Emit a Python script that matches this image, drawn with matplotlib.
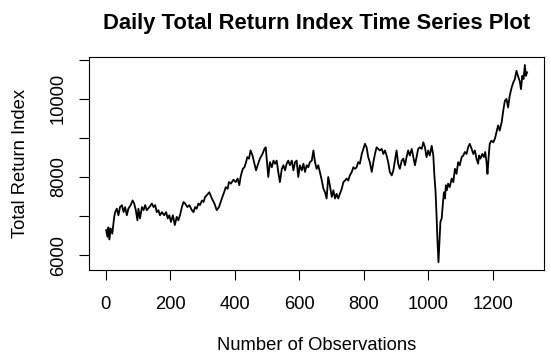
import matplotlib
matplotlib.use("Agg")
import matplotlib.pyplot as plt

obs = [1, 5, 8, 11, 15, 20, 26, 29, 34, 39, 44, 50, 55, 60, 65, 70, 77, 83, 88, 93,
       98, 101, 106, 112, 117, 122, 127, 135, 143, 148, 153, 158, 163, 168, 174, 181, 187, 192, 197, 202,
       208, 214, 220, 225, 230, 236, 241, 246, 253, 259, 267, 272, 277, 282, 287, 292, 298, 303, 308, 313,
       321, 329, 337, 344, 351, 360, 367, 372, 378, 382, 388, 396, 403, 409, 414, 419, 425, 430, 435, 439,
       444, 449, 455, 460, 466, 471, 478, 486, 492, 496, 499, 504, 509, 515, 520, 525, 530, 535, 540, 546,
       551, 556, 561, 566, 571, 577, 582, 587, 592, 597, 602, 608, 613, 618, 623, 628, 633, 639, 644, 649,
       654, 659, 664, 670, 675, 680, 685, 690, 695, 701, 706, 711, 716, 721, 726, 732, 737, 742, 747, 752,
       757, 763, 768, 773, 778, 783, 788, 794, 799, 804, 809, 814, 819, 825, 830, 835, 840, 845, 850, 856,
       861, 866, 871, 876, 881, 887, 892, 897, 902, 907, 912, 918, 923, 928, 933, 938, 943, 949, 954, 959,
       964, 969, 974, 980, 985, 990, 995, 1000, 1005, 1011, 1016, 1019, 1023, 1026, 1029, 1032, 1035, 1038, 1042, 1046,
       1049, 1052, 1055, 1058, 1062, 1067, 1073, 1078, 1083, 1088, 1093, 1098, 1104, 1109, 1114, 1119, 1124, 1129, 1135, 1140,
       1145, 1150, 1155, 1158, 1162, 1168, 1173, 1177, 1181, 1184, 1188, 1191, 1196, 1202, 1207, 1212, 1217, 1222, 1228, 1233,
       1238, 1243, 1248, 1253, 1259, 1264, 1269, 1274, 1280, 1284, 1288, 1292, 1296, 1300, 1303, 1307]
tri = [6640, 6470, 6710, 6400, 6680, 6550, 6980, 7100, 7190, 7020, 7230, 7280, 7100, 7230, 7020, 7190, 7280, 7400, 7320, 7150,
       6890, 7190, 6940, 7230, 7150, 7280, 7150, 7230, 7320, 7230, 7280, 7100, 7150, 7020, 7100, 7020, 7100, 6940, 7020, 6850,
       7020, 6770, 6980, 6890, 7020, 7230, 7360, 7320, 7230, 7280, 7150, 7100, 7230, 7190, 7320, 7280, 7400, 7360, 7490, 7530,
       7610, 7450, 7320, 7150, 7230, 7450, 7610, 7740, 7700, 7870, 7830, 7930, 7870, 7960, 7790, 8040, 8210, 8250, 8380, 8510,
       8470, 8680, 8550, 8380, 8170, 8300, 8470, 8590, 8720, 8760, 8470, 8000, 8380, 8250, 8420, 8340, 8420, 8130, 7870, 8210,
       8300, 8170, 8340, 8420, 8300, 8420, 8170, 8380, 8420, 8000, 8300, 8170, 8340, 8130, 8300, 8250, 8380, 8420, 8680, 8380,
       8210, 8300, 8130, 7910, 7700, 7610, 7450, 8000, 7790, 7490, 7660, 7450, 7570, 7450, 7570, 7700, 7870, 7910, 7960, 7910,
       8040, 8130, 8250, 8210, 8250, 8380, 8340, 8590, 8720, 8850, 8760, 8510, 8380, 8130, 8380, 8590, 8760, 8720, 8680, 8720,
       8590, 8680, 8550, 8380, 8130, 8040, 8170, 8420, 8680, 8340, 8210, 8420, 8470, 8300, 8510, 8680, 8550, 8720, 8510, 8300,
       8510, 8720, 8760, 8720, 8890, 8760, 8510, 8680, 8550, 8800, 8550, 8080, 7610, 7020, 6340, 5820, 6340, 6850, 6940, 7360,
       7610, 7450, 7790, 7660, 7830, 7740, 7960, 7870, 8210, 8080, 8380, 8300, 8510, 8550, 8640, 8590, 8760, 8850, 8720, 8590,
       8680, 8470, 8340, 8550, 8470, 8590, 8510, 8640, 8380, 8080, 8550, 8850, 8930, 8890, 8980, 9150, 9320, 9190, 9400, 9700,
       9950, 10000, 9780, 10080, 10290, 10420, 10510, 10720, 10550, 10460, 10250, 10590, 10510, 10870, 10590, 10680]

x_ticks = [0, 200, 400, 600, 800, 1000, 1200]
y_ticks = [6000, 7000, 8000, 9000, 10000, 11000]
y_tick_labels = ['6000', '', '8000', '', '10000', '']

plt.rcParams['font.family'] = ['Liberation Sans', 'DejaVu Sans']

fig = plt.figure(figsize=(5.5, 3.61), dpi=100)
ax = fig.add_axes([0.1624, 0.252, 0.8266, 0.590])

ax.plot(obs, tri, color='black', linewidth=1.3)

# margenes al estilo de R (4 %)
xr = max(obs) - min(obs)
yr = max(tri) - min(tri)
ax.set_xlim(min(obs) - 0.04 * xr, max(obs) + 0.04 * xr)
ax.set_ylim(min(tri) - 0.04 * yr, max(tri) + 0.04 * yr)

ax.set_xticks(x_ticks)
ax.set_yticks(y_ticks)
ax.set_yticklabels(y_tick_labels, rotation=90, va='center')
ax.tick_params(axis='both', direction='out', length=7, width=0.8, labelsize=13.2, color='black')
ax.tick_params(axis='x', pad=12)
ax.tick_params(axis='y', pad=9)
for s in ax.spines.values():
    s.set_linewidth(0.8)

ax.set_xlabel('Number of Observations', fontsize=13.2, labelpad=17)
ax.set_ylabel('Total Return Index', fontsize=13.2, labelpad=15)
fig.text(0.575, 0.935, 'Daily Total Return Index Time Series Plot', ha='center', va='center',
         fontsize=15.8, fontweight='bold')

fig.savefig('out.png', dpi=100)
